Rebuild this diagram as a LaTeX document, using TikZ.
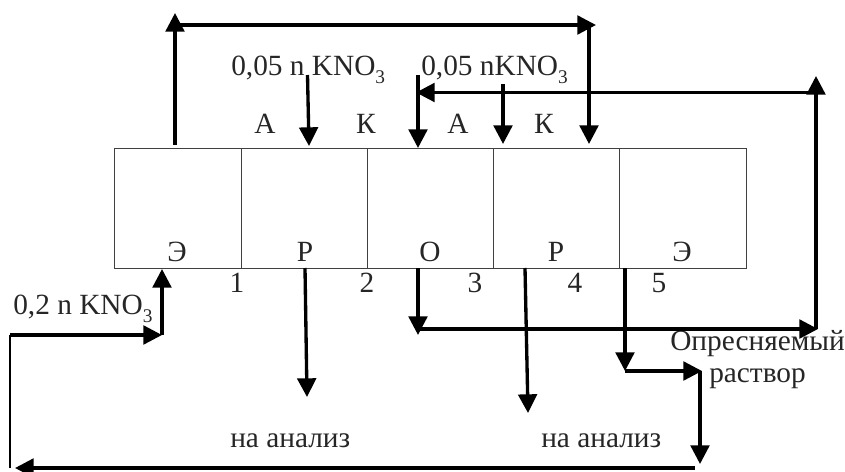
\documentclass[tikz,border=0pt]{standalone}
\usepackage{fontspec}
\setmainfont{Liberation Serif}
\usetikzlibrary{arrows.meta}
\newcommand{\subthree}{\raisebox{-6.5pt}{\fontsize{14.5}{15}\selectfont 3}}
\tikzset{
  chamber/.style={draw=black!75,line width=0.75pt,minimum height=90pt,inner sep=0pt,outer sep=0pt,anchor=north west},
  flow/.style={line width=2.5pt,black,-{Triangle[length=14pt,width=14pt]},shorten >=0pt},
  plainflow/.style={line width=2.5pt,black},
  lbl/.style={anchor=base,inner sep=0pt,font=\fontsize{22}{24}\selectfont,text=black!85},
  lblw/.style={anchor=base west,inner sep=0pt,font=\fontsize{22}{24}\selectfont,text=black!85}
}
\begin{document}
\begin{tikzpicture}[x=0.75pt,y=-0.75pt]
\useasboundingbox (0,0) rectangle (845,471);
% chambers
\node[chamber,minimum width=95.25pt] (c1) at (114,148) {};
\node[chamber,minimum width=94.875pt] (c2) at (241,148) {};
\node[chamber,minimum width=94.125pt] (c3) at (367.5,148) {};
\node[chamber,minimum width=94.875pt] (c4) at (493,148) {};
\node[chamber,minimum width=94.875pt] (c5) at (619.5,148) {};
% labels
\node[lbl] (ta1) at (265,133) {А};
\node[lbl] (tk1) at (366,133) {К};
\node[lbl] (ta2) at (458,133) {А};
\node[lbl] (tk2) at (544,133) {К};
\node[lbl] (e1) at (177,261) {Э};
\node[lbl] (p1) at (305,261) {Р};
\node[lbl] (o1) at (430,261) {О};
\node[lbl] (p2) at (556,261) {Р};
\node[lbl] (e2) at (682,261) {Э};
\node[lbl] (n1) at (237,292) {1};
\node[lbl] (n2) at (367,292) {2};
\node[lbl] (n3) at (475,292) {3};
\node[lbl] (n4) at (575,292) {4};
\node[lbl] (n5) at (659,292) {5};
\node[lblw] (s1) at (231,75) {0,05 n KNO\subthree};
\node[lblw] (s2) at (421,75) {0,05 nKNO\subthree};
\node[lblw] (s3) at (13,314) {0,2 n KNO\subthree};
\node[lblw] (d1) at (670,350) {Опресняемый};
\node[lblw] (d2) at (709,382) {раствор};
\node[lblw] (an1) at (230,447) {на анализ};
\node[lblw] (an2) at (541,447) {на анализ};
% junctions and free ends
\coordinate (a) at (175,145);
\coordinate (a1) at (175,13);
\coordinate (a2) at (175,25);
\coordinate (a3) at (596,25);
\coordinate (a4) at (589,25);
\coordinate (a5) at (589,144);
\coordinate (b1) at (307.5,75);
\coordinate (b2) at (309,146);
\coordinate (f1) at (418,75);
\coordinate (f2) at (418,148);
\coordinate (g1) at (503,84);
\coordinate (g2) at (503,144);
\coordinate (h1) at (816,329);
\coordinate (h2) at (816,76);
\coordinate (h3) at (816,92.5);
\coordinate (h4) at (416,92.5);
\coordinate (i1) at (418,268);
\coordinate (i2) at (418,335);
\coordinate (i3) at (418,329);
\coordinate (i4) at (818,329);
\coordinate (j1) at (525,268);
\coordinate (j2) at (528,413);
\coordinate (k1) at (625,268);
\coordinate (k2) at (625,371);
\coordinate (k3) at (702,371);
\coordinate (k4) at (700,371);
\coordinate (k5) at (700,464);
\coordinate (l1) at (695,468);
\coordinate (l2) at (15,468);
\coordinate (m1) at (10,468);
\coordinate (m2) at (10,335);
\coordinate (m3) at (162,335);
\coordinate (m4) at (162,269);
\coordinate (q1) at (305,268);
\coordinate (q2) at (307,397);
% connectors
\draw[flow] (a) -- (a1);
\draw[flow] (a2) -- (a3);
\draw[flow] (a4) -- (a5);
\draw[flow] (b1) -- (b2);
\draw[flow] (f1) -- (f2);
\draw[flow] (g1) -- (g2);
\draw[flow] (h1) -- (h2);
\draw[flow] (h3) -- (h4);
\draw[flow] (i1) -- (i2);
\draw[flow] (i3) -- (i4);
\draw[flow] (j1) -- (j2);
\draw[flow] (k1) -- (k2);
\draw[flow] (k2) -- (k3);
\draw[flow] (k4) -- (k5);
\draw[flow] (l1) -- (l2);
\draw[plainflow,line width=1.5pt] (m1) -- (m2);
\draw[flow] (m2) -- (m3);
\draw[flow] (m3) -- (m4);
\draw[flow] (q1) -- (q2);
\end{tikzpicture}
\end{document}
